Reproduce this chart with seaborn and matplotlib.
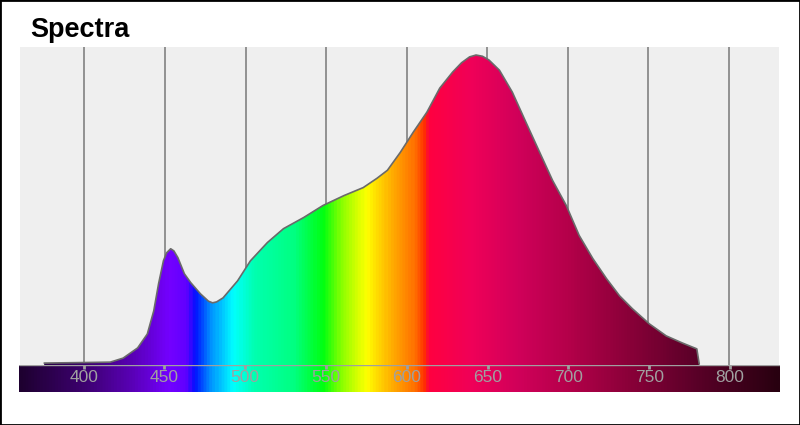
import numpy as np
import pandas as pd
import seaborn as sns
import matplotlib.pyplot as plt
from matplotlib.colors import LinearSegmentedColormap
from matplotlib.patches import Rectangle

# spectrum (wavelength in nm, relative intensity)
wavelength = [375, 390, 404, 416, 424, 433, 439, 443, 446, 449, 451, 453.5, 455.5, 458,
              462, 466, 472, 477, 479.5, 482, 486, 495, 503, 513.5, 523.5, 536, 548, 561,
              573, 581.5, 588, 596, 604, 612.5, 620.5, 628.5, 634, 639, 643, 647, 651,
              657.5, 665.5, 674, 682.5, 690.5, 699, 707, 715.5, 724, 732, 740, 750.5,
              761, 771, 780, 781.5]
intensity = [0.003, 0.004, 0.005, 0.006, 0.019, 0.052, 0.097, 0.172, 0.260, 0.334, 0.360,
             0.373, 0.366, 0.344, 0.292, 0.263, 0.227, 0.203, 0.198, 0.201, 0.214, 0.269,
             0.334, 0.393, 0.438, 0.474, 0.513, 0.545, 0.571, 0.601, 0.627, 0.685, 0.750,
             0.815, 0.893, 0.945, 0.975, 0.994, 1.0, 0.996, 0.984, 0.951, 0.880, 0.782,
             0.685, 0.594, 0.513, 0.416, 0.341, 0.276, 0.221, 0.179, 0.130, 0.091, 0.068,
             0.049, 0.0]

ticks = [400, 450, 500, 550, 600, 650, 700, 750, 800]

# colour of light along the wavelength axis
stop_nm = [360, 400, 430, 452, 463, 468, 478, 492, 505, 530, 548, 560, 575, 590, 605,
           611, 614, 640, 670, 700, 740, 780, 831]
stop_col = ['#1e0030', '#3d0070', '#5a00b8', '#7300ff', '#6000ff', '#0010ff', '#0090ff',
            '#00ffff', '#00ffb0', '#00ff80', '#00ff10', '#90ff00', '#ffff00', '#ffb000',
            '#ff7000', '#ff3000', '#ff0040', '#f00058', '#d0005a', '#b5004a', '#880038',
            '#5a0028', '#280010']

x_lo, x_hi = 360, 831
y_lo, y_hi = -0.0065, 1.026

sns.set_style('white')
plt.rcParams['font.family'] = ['Liberation Sans', 'DejaVu Sans']

cmap = LinearSegmentedColormap.from_list(
    'spec', [((n - x_lo) / (x_hi - x_lo), c) for n, c in zip(stop_nm, stop_col)])

df = pd.DataFrame({'wavelength': wavelength, 'intensity': intensity})

fig = plt.figure(figsize=(8, 4.25), dpi=100)
ax = fig.add_axes([20 / 800, 59 / 425, 759 / 800, 319 / 425])
cax = fig.add_axes([19 / 800, 33 / 425, 761 / 800, 27 / 425])

ax.set_facecolor('#efefef')
for t in ticks:
    ax.axvline(t, color='#8a8a8a', lw=1.3, zorder=1)

grad = np.linspace(x_lo, x_hi, 800).reshape(1, -1)
poly = ax.fill_between(df['wavelength'], y_lo, df['intensity'], color='none', lw=0,
                       zorder=2)
img = ax.imshow(grad, extent=(x_lo, x_hi, y_lo, 1.1), aspect='auto', cmap=cmap,
                origin='lower', zorder=2, interpolation='bilinear')
img.set_clip_path(poly.get_paths()[0], transform=ax.transData)
sns.lineplot(data=df, x='wavelength', y='intensity', ax=ax, color='#6a6a6a', lw=1.2,
             zorder=3, sort=False)

ax.set_xlim(x_lo, x_hi)
ax.set_ylim(y_lo, y_hi)
ax.set_xticks([])
ax.set_yticks([])
ax.set_xlabel('')
ax.set_ylabel('')
for s in ax.spines.values():
    s.set_visible(False)

cax.imshow(grad, extent=(x_lo, x_hi, 0, 1), aspect='auto', cmap=cmap,
           interpolation='bilinear')
cax.set_xlim(x_lo, x_hi)
cax.set_ylim(0, 1)
cax.set_yticks([])
cax.set_xticks(ticks)
cax.tick_params(axis='x', top=True, bottom=False, labelbottom=False, direction='in',
                length=3, width=2, color='#a0a0a0')
for t in ticks:
    cax.text(t, 0.52, str(t), ha='center', va='center', color='#a0a0a0', fontsize=12.5)
for s in cax.spines.values():
    s.set_visible(False)
cax.axhline(1, color='#a0a0a0', lw=1)

fig.text(30 / 800, 1 - 37 / 425, 'Spectra', fontsize=19.5, fontweight='bold',
         va='baseline', ha='left', color='black')
fig.patches.append(Rectangle((0, 0), 1, 1, transform=fig.transFigure, fill=False,
                             edgecolor='black', lw=2))

fig.savefig('out.png', dpi=100)
